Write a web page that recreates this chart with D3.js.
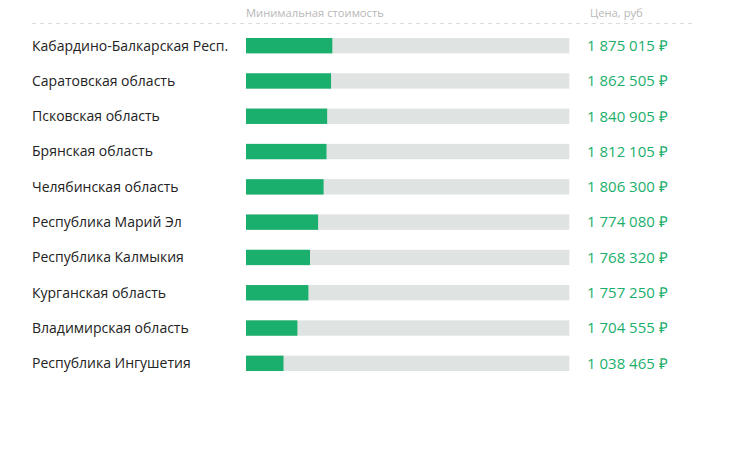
<!DOCTYPE html>
<html><head><meta charset="utf-8">
<script src="https://cdn.jsdelivr.net/npm/d3@7"></script>
<style>body{margin:0;background:#fff;}svg{display:block;}</style>
</head><body>
<svg id="c" width="745" height="450"></svg>
<script>
const regions = ["Кабардино-Балкарская Респ.","Саратовская область","Псковская область","Брянская область","Челябинская область","Республика Марий Эл","Республика Калмыкия","Курганская область","Владимирская область","Республика Ингушетия"];
const prices = [1875015,1862505,1840905,1812105,1806300,1774080,1768320,1757250,1704555,1038465];
const barShare = [26.7,26.3,25.1,24.9,24.0,22.3,19.8,19.3,15.9,11.6];
const headers = ["Минимальная стоимость","Цена, руб"];

const svg = d3.select("#c");
const font = "'Open Sans', sans-serif";
const x = d3.scaleLinear().domain([0,100]).range([246,569.3]);
const y = d3.scaleBand().domain(regions).range([28,381]).paddingInner(0.565).paddingOuter(0.283);

svg.append("line").attr("x1",32).attr("x2",692).attr("y1",23.5).attr("y2",23.5)
  .attr("stroke","#dcdcdc").attr("stroke-width",1).attr("stroke-dasharray","4,4");
svg.append("text").attr("x",246).attr("y",17).text(headers[0])
  .attr("font-family",font).attr("font-size",11.2).attr("fill","#b8b8b8");
svg.append("text").attr("x",590).attr("y",17).text(headers[1])
  .attr("font-family",font).attr("font-size",11.2).attr("fill","#b8b8b8");

const fmt = v => d3.format(",")(v).replace(/,/g," ") + " ₽";
const g = svg.append("g").selectAll("g").data(regions).join("g");
g.append("rect").attr("x",x(0)).attr("y",d=>y(d)).attr("width",x(100)-x(0)).attr("height",y.bandwidth()).attr("fill","#dfe3e2");
g.append("rect").attr("x",x(0)).attr("y",d=>y(d)).attr("width",(d,i)=>x(barShare[i])-x(0)).attr("height",y.bandwidth()).attr("fill","#1aaf6c");
g.append("text").attr("x",32).attr("y",d=>y(d)+y.bandwidth()/2).attr("dy","0.35em").text(d=>d)
  .attr("font-family",font).attr("font-size",14).attr("fill","#222");
g.append("text").attr("x",587).attr("y",d=>y(d)+y.bandwidth()/2).attr("dy","0.35em").text((d,i)=>fmt(prices[i]))
  .attr("font-family",font).attr("font-size",15).attr("fill","#1aaf6c");
</script>
</body></html>
